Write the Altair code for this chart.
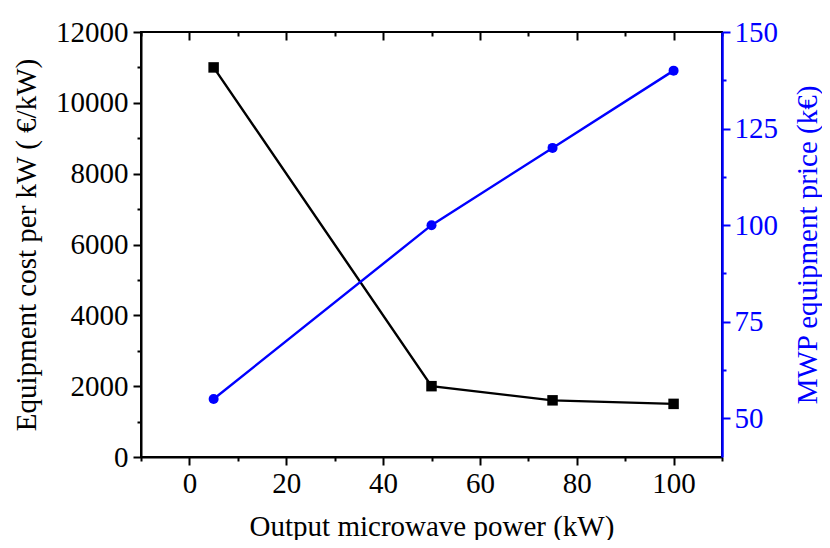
import altair as alt
import pandas as pd

# Data
power_kw = [5, 50, 75, 100]
cost_per_kw = [11000, 2000, 1600, 1500]
price_keur = [55, 100, 120, 140]

x_major = [0, 20, 40, 60, 80, 100]
x_minor = [-10, 10, 30, 50, 70, 90, 110]
yl_major = [0, 2000, 4000, 6000, 8000, 10000, 12000]
yl_minor = [1000, 3000, 5000, 7000, 9000, 11000]
yr_major = [50, 75, 100, 125, 150]
yr_minor = [62.5, 87.5, 112.5, 137.5]

df = pd.DataFrame({"power": power_kw, "cost": cost_per_kw, "price": price_keur})

FONT = "Liberation Serif"
FS = 29
BLUE = "#0000ff"

xs = alt.Scale(domain=[-10, 110], nice=False, zero=False)
yls = alt.Scale(domain=[0, 12000], nice=False, zero=False)
yrs = alt.Scale(domain=[40, 150], nice=False, zero=False)

base = alt.Chart(df)

x_none = alt.X("power:Q", scale=xs, axis=None)

# left series
black_line = base.mark_line(color="black", strokeWidth=2.4).encode(
    x=x_none, y=alt.Y("cost:Q", scale=yls, axis=None))
black_pts = base.mark_square(color="black", size=110, opacity=1).encode(
    x=alt.X("power:Q", scale=xs,
            axis=alt.Axis(orient="bottom", values=x_major, tickSize=8, labelPadding=4,
                          format="d",
                          title="Output microwave power (kW)", titlePadding=14)),
    y=alt.Y("cost:Q", scale=yls,
            axis=alt.Axis(orient="left", values=yl_major, tickSize=8, labelPadding=5,
                          format="d",
                          title="Equipment cost per kW ( \u20ac/kW)", titlePadding=14)))

# minor ticks (invisible marks carrying extra axes)
minor_bl = base.mark_point(opacity=0).encode(
    x=alt.X("power:Q", scale=xs,
            axis=alt.Axis(orient="bottom", values=x_minor, tickSize=4, labels=False,
                          domain=False, title=None)),
    y=alt.Y("cost:Q", scale=yls,
            axis=alt.Axis(orient="left", values=yl_minor, tickSize=4, labels=False,
                          domain=False, title=None)))

top_major = base.mark_point(opacity=0).encode(
    x=alt.X("power:Q", scale=xs,
            axis=alt.Axis(orient="top", values=x_major, tickSize=8, labels=False,
                          domain=False, offset=-8, title=None)),
    y=alt.Y("cost:Q", scale=yls, axis=None))
top_minor = base.mark_point(opacity=0).encode(
    x=alt.X("power:Q", scale=xs,
            axis=alt.Axis(orient="top", values=x_minor, tickSize=4, labels=False,
                          domain=False, offset=-4, title=None)),
    y=alt.Y("cost:Q", scale=yls, axis=None))

# right series
blue_line = base.mark_line(color=BLUE, strokeWidth=2.4).encode(
    x=x_none, y=alt.Y("price:Q", scale=yrs, axis=None))
blue_pts = base.mark_circle(color=BLUE, size=100, opacity=1).encode(
    x=x_none,
    y=alt.Y("price:Q", scale=yrs,
            axis=alt.Axis(orient="right", values=yr_major, tickSize=8, labelPadding=4,
                          format="d",
                          title="MWP equipment price (k\u20ac)", titlePadding=16,
                          titleAngle=270, titleBaseline="top",
                          labelColor=BLUE, tickColor=BLUE, domainColor=BLUE,
                          titleColor=BLUE, domainWidth=2.5)))
minor_r = base.mark_point(opacity=0).encode(
    x=x_none,
    y=alt.Y("price:Q", scale=yrs,
            axis=alt.Axis(orient="right", values=yr_minor, tickSize=4, labels=False,
                          domain=False, tickColor=BLUE, title=None)))

chart = alt.layer(
    minor_bl, top_major, top_minor, minor_r,
    black_line, black_pts, blue_line, blue_pts,
).resolve_scale(x="independent", y="independent").resolve_axis(
    x="independent", y="independent"
).properties(
    width=581, height=425,
    autosize=alt.AutoSizeParams(type="none"),
    padding={"left": 133, "right": 100, "top": 24, "bottom": 83},
).configure_view(
    stroke="black", strokeWidth=2
).configure_axis(
    labelFont=FONT, labelFontSize=FS, titleFont=FONT, titleFontSize=FS,
    titleFontWeight="normal", labelColor="black", titleColor="black",
    tickColor="black", domainColor="black", tickWidth=2, domainWidth=2,
    grid=False,
)

chart.save("out.html", embed_options={"renderer": "svg", "actions": False})
